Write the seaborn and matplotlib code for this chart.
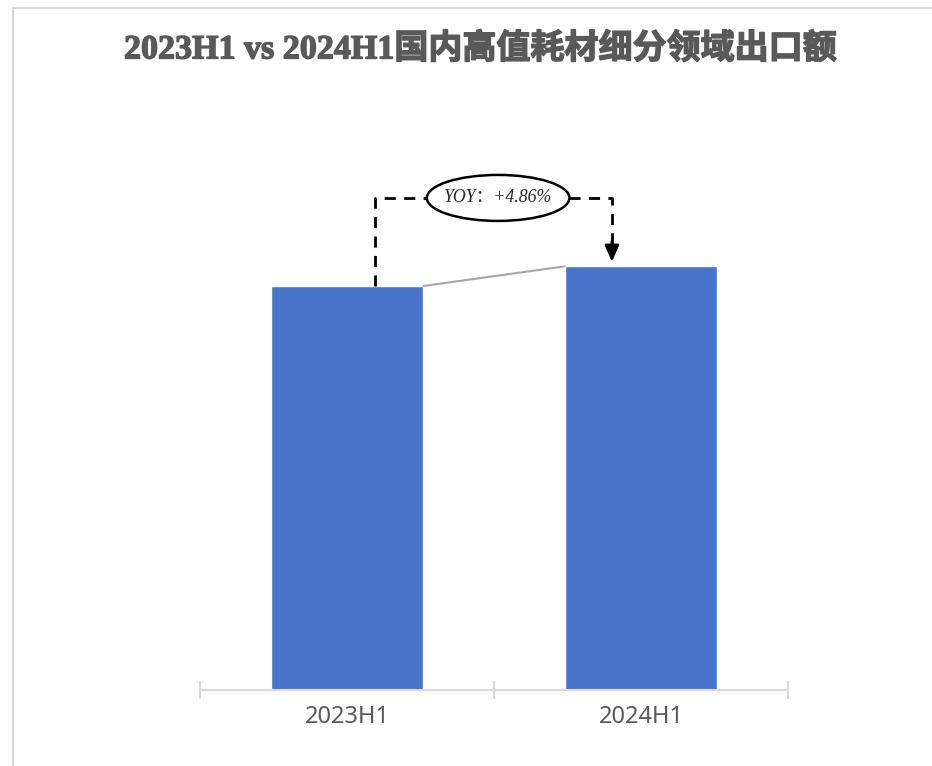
import matplotlib
matplotlib.use("Agg")
import matplotlib.pyplot as plt
import matplotlib.patheffects as pe
import seaborn as sns
import pandas as pd
from matplotlib.patches import Ellipse
from matplotlib.lines import Line2D

categories = ["2023H1", "2024H1"]
values = [100.0, 104.86]
yoy_label = "YOY：+4.86%"
title = "2023H1 vs 2024H1国内高值耗材细分领域出口额"

sns.set_theme(style="white")
plt.rcParams['font.family'] = ['Noto Sans', 'Noto Sans CJK SC', 'DejaVu Sans']

df = pd.DataFrame({"cat": categories, "val": values})

fig = plt.figure(figsize=(9.32, 7.66), dpi=100)
W, H = 932, 766
ax = fig.add_axes([200 / W, 1 - 690 / H, 588 / W, 590 / H])

sns.barplot(data=df, x="cat", y="val", color="#4874CB", width=0.52,
            saturation=1, ax=ax, zorder=2)
ax.set_xlim(-0.5, 1.5)
ax.set_ylim(0, 590 / 4.04)
ax.set_xlabel("")
ax.set_ylabel("")
ax.set_yticks([])
for s in ["top", "right", "left"]:
    ax.spines[s].set_visible(False)
ax.spines["bottom"].set_color("#d9d9d9")
ax.spines["bottom"].set_linewidth(1.5)
ax.set_xticks([-0.5, 0.5, 1.5], minor=True)
ax.tick_params(axis="x", which="minor", direction="inout", length=13,
               width=1.5, color="#d9d9d9", bottom=True)
ax.tick_params(axis="x", which="major", length=0, pad=11,
               labelsize=17, labelcolor="#595959")

# grey connector between bar tops
hw = 0.26
ax.plot([0 + hw, 1 - hw], [values[0], values[1]], color="#a6a6a6", lw=1.5,
        zorder=3)

# dashed bracket
xl, xr = 0.095, 0.901
ytop = 121.8
ell_cx, ell_w = 0.514, 0.485
dash = dict(color="black", lw=2, linestyle=(0, (4, 3)), zorder=4)
ax.plot([xl, xl, ell_cx - ell_w / 2], [values[0], ytop, ytop], **dash)
ax.plot([ell_cx + ell_w / 2, xr, xr], [ytop, ytop, 110.5], **dash)
ax.annotate("", xy=(xr, 106.0), xytext=(xr, 111.0),
            arrowprops=dict(arrowstyle="-|>,head_width=0.35,head_length=0.8",
                            color="black", lw=2, shrinkA=0, shrinkB=0),
            zorder=5)
ell = Ellipse((ell_cx, ytop), ell_w, 46 / 4.04, facecolor="white",
              edgecolor="black", lw=1.8, zorder=5)
ax.add_patch(ell)
ax.text(ell_cx, ytop, yoy_label, ha="center", va="center", fontsize=12.8,
        style="italic", family=["Liberation Serif", "Noto Sans CJK SC"],
        color="#262626", zorder=6)

fig.text(480 / W, 1 - 49 / H, title, ha="center", va="center", fontsize=24.5,
         fontweight="bold", color="#595959",
         family=["Liberation Serif", "Noto Sans CJK SC"],
         path_effects=[pe.withStroke(linewidth=1.0, foreground="#595959")])

# light frame
fig.add_artist(Line2D([13 / W, 13 / W], [0, 1 - 8 / H], color="#d6d6d6",
                      lw=1.5, transform=fig.transFigure))
fig.add_artist(Line2D([13 / W, 1], [1 - 8 / H, 1 - 8 / H], color="#d6d6d6",
                      lw=1.5, transform=fig.transFigure))

fig.savefig("out.png", dpi=100)
